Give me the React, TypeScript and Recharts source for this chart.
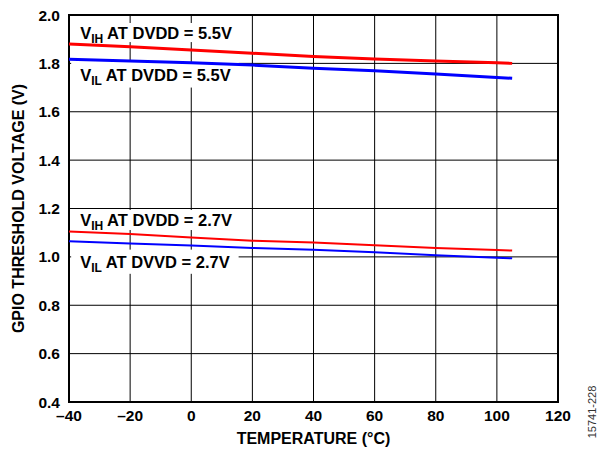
import React from "react";
import { LineChart, Line, XAxis, YAxis, CartesianGrid, ReferenceArea } from "recharts";

// temperature points (°C)
const temps = [-40, -20, 0, 20, 40, 60, 80, 100, 105];

// threshold voltages (V)
const vih55 = [1.88, 1.869, 1.855, 1.842, 1.828, 1.818, 1.81, 1.803, 1.8];
const vil55 = [1.817, 1.81, 1.803, 1.793, 1.78, 1.769, 1.756, 1.742, 1.738];
const vih27 = [1.105, 1.095, 1.08, 1.067, 1.059, 1.048, 1.037, 1.028, 1.026];
const vil27 = [1.065, 1.055, 1.047, 1.037, 1.029, 1.019, 1.007, 0.996, 0.994];

const xTicks = [-40, -20, 0, 20, 40, 60, 80, 100, 120];
const yTicks = [0.4, 0.6, 0.8, 1.0, 1.2, 1.4, 1.6, 1.8, 2.0];

const data = temps.map((t, i) => ({
  t,
  vih55: vih55[i],
  vil55: vil55[i],
  vih27: vih27[i],
  vil27: vil27[i],
}));

const FONT = "'Liberation Sans', Arial, sans-serif";

// white box + label with subscript
function labelBox(sub: string, rest: string) {
  return (props: any) => {
    const { x, y, width, height } = props;
    return (
      <g>
        <rect x={x} y={y} width={width} height={height} fill="#fff" />
        <text
          x={x + 9}
          y={y + height / 2 + 6}
          fontFamily={FONT}
          fontWeight="bold"
          fontSize={16.5}
          fill="#000"
        >
          V
          <tspan fontSize={12} dy={4}>{sub}</tspan>
          <tspan dy={-4}>{rest}</tspan>
        </text>
      </g>
    );
  };
}

const tickStyle = { fontFamily: FONT, fontWeight: "bold", fontSize: 15.5, fill: "#000" };

export default function App() {
  return (
    <div style={{ position: "absolute", left: 0, top: 0, width: 601, height: 451, background: "#fff" }}>
      <LineChart width={601} height={451} data={data} margin={{ top: 15, right: 43, bottom: 0, left: 0 }}>
        <CartesianGrid stroke="#000" strokeWidth={1} />
        <XAxis
          dataKey="t"
          type="number"
          domain={[-40, 120]}
          ticks={xTicks}
          axisLine={false}
          tickLine={false}
          tickSize={6}
          tickMargin={2}
          height={49}
          tick={tickStyle}
          tickFormatter={(v: number) => String(v).replace("-", "\u2013")}
          label={{
            value: "TEMPERATURE (°C)",
            position: "insideBottom",
            offset: 7,
            style: { fontFamily: FONT, fontWeight: "bold", fontSize: 16, fill: "#000" },
          }}
        />
        <YAxis
          type="number"
          domain={[0.4, 2.0]}
          ticks={yTicks}
          axisLine={false}
          tickLine={false}
          tickSize={6}
          tickMargin={3}
          width={69}
          tick={tickStyle}
          tickFormatter={(v: number) => v.toFixed(1)}
          label={{
            value: "GPIO THRESHOLD VOLTAGE (V)",
            angle: -90,
            position: "insideLeft",
            offset: 18,
            style: { fontFamily: FONT, fontWeight: "bold", fontSize: 16, fill: "#000", textAnchor: "middle" },
          }}
        />
        <ReferenceArea x1={-39.3} x2={17.5} y1={1.888} y2={1.967} shape={labelBox("IH", " AT DVDD = 5.5V")} />
        <ReferenceArea x1={-39.3} x2={15.5} y1={1.7} y2={1.806} shape={labelBox("IL", " AT DVDD = 5.5V")} />
        <ReferenceArea x1={-39.3} x2={17.5} y1={1.111} y2={1.194} shape={labelBox("IH", " AT DVDD = 2.7V")} />
        <ReferenceArea x1={-39.3} x2={15.5} y1={0.93} y2={1.03} shape={labelBox("IL", " AT DVVD = 2.7V")} />
        <Line dataKey="vih55" stroke="#ff0000" strokeWidth={3} dot={false} isAnimationActive={false} />
        <Line dataKey="vil55" stroke="#0000ff" strokeWidth={3} dot={false} isAnimationActive={false} />
        <Line dataKey="vih27" stroke="#ff0000" strokeWidth={2} dot={false} isAnimationActive={false} />
        <Line dataKey="vil27" stroke="#0000ff" strokeWidth={2} dot={false} isAnimationActive={false} />
        <ReferenceArea x1={-40} x2={120} y1={0.4} y2={2.0} fill="none" stroke="#000" strokeWidth={2} fillOpacity={0} />
      </LineChart>
      <div
        style={{
          position: "absolute",
          left: 592,
          top: 412,
          transform: "translate(-50%, -50%) rotate(-90deg)",
          fontFamily: FONT,
          fontSize: 11,
          color: "#333",
          whiteSpace: "nowrap",
        }}
      >
        15741-228
      </div>
    </div>
  );
}
